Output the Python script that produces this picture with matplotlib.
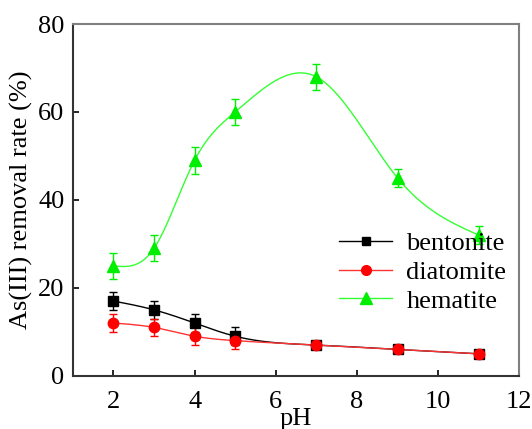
import numpy as np
import matplotlib
matplotlib.use("Agg")
import matplotlib.pyplot as plt

plt.rcParams["font.family"] = ["Liberation Serif", "DejaVu Serif"]

ph = [2, 3, 4, 5, 7, 9, 11]
bentonite = [17, 15, 12, 9, 7, 6, 5]
bentonite_err = [2, 2, 2, 2, 0.6, 0.6, 0.6]
diatomite = [12, 11, 9, 8, 7, 6, 5]
diatomite_err = [2, 2, 2, 2, 0.6, 0.6, 0.6]
hematite = [25, 29, 49, 60, 68, 45, 32]
hematite_err = [3, 3, 3, 3, 3, 2, 2]


def natural_spline(x, y, xs):
    """natural cubic spline through (x, y), evaluated at xs"""
    x = np.asarray(x, float); y = np.asarray(y, float)
    n = len(x)
    h = np.diff(x)
    A = np.zeros((n, n)); b = np.zeros(n)
    A[0, 0] = A[-1, -1] = 1
    for i in range(1, n - 1):
        A[i, i - 1] = h[i - 1]
        A[i, i] = 2 * (h[i - 1] + h[i])
        A[i, i + 1] = h[i]
        b[i] = 6 * ((y[i + 1] - y[i]) / h[i] - (y[i] - y[i - 1]) / h[i - 1])
    M = np.linalg.solve(A, b)
    k = np.clip(np.searchsorted(x, xs) - 1, 0, n - 2)
    t0 = x[k + 1] - xs; t1 = xs - x[k]
    return (M[k] * t0**3 / (6 * h[k]) + M[k + 1] * t1**3 / (6 * h[k])
            + (y[k] / h[k] - M[k] * h[k] / 6) * t0
            + (y[k + 1] / h[k] - M[k + 1] * h[k] / 6) * t1)


fig = plt.figure(figsize=(5.32, 4.29), dpi=100)
ax = fig.add_axes([0.137, 0.124, 0.839, 0.820])
xs = np.linspace(2, 11, 400)

series = [("bentonite", bentonite, bentonite_err, "black", "black", "s", 6.5),
          ("diatomite", diatomite, diatomite_err, "red", "#ff3333", "o", 7.5),
          ("hematite", hematite, hematite_err, "#00ee00", "#33ff33", "^", 8.5)]
for name, vals, err, mc, lc, m, ms in series:
    ax.plot(xs, natural_spline(ph, vals, xs), color=lc, lw=1.0, zorder=2)
    ax.errorbar(ph, vals, yerr=err, fmt="none", ecolor=mc, elinewidth=1.0,
                capsize=3, capthick=1.0, zorder=3)
    ax.plot(ph, vals, ls="none", marker=m, ms=ms, color=mc, zorder=4)
    ax.plot([], [], color=lc, lw=1.0, marker=m, ms=ms - 0.5, mfc=mc, mec=mc, label=name)

ax.set_xlim(1, 12)
ax.set_ylim(0, 80)
ax.set_xticks(range(2, 13, 2))
ax.set_yticks(range(0, 81, 20))
ax.tick_params(direction="in", labelsize=19, length=4, width=1.2)
ax.tick_params(axis="x", pad=11)
ax.tick_params(axis="y", pad=6)
for s in ["top", "right"]:
    ax.spines[s].set_color("#808080")
    ax.spines[s].set_linewidth(1.5)
for s in ["left", "bottom"]:
    ax.spines[s].set_color("#333333")
    ax.spines[s].set_linewidth(1.5)
ax.set_xlabel("pH", fontsize=19, labelpad=-4)
ax.set_ylabel("As(III) removal rate (%)", fontsize=19, labelpad=4)
ax.legend(loc="center right", bbox_to_anchor=(0.995, 0.295), frameon=False,
          fontsize=19, handlelength=2.0, handletextpad=0.55, labelspacing=0.2,
          borderaxespad=0)

fig.savefig("out.png", dpi=100)
